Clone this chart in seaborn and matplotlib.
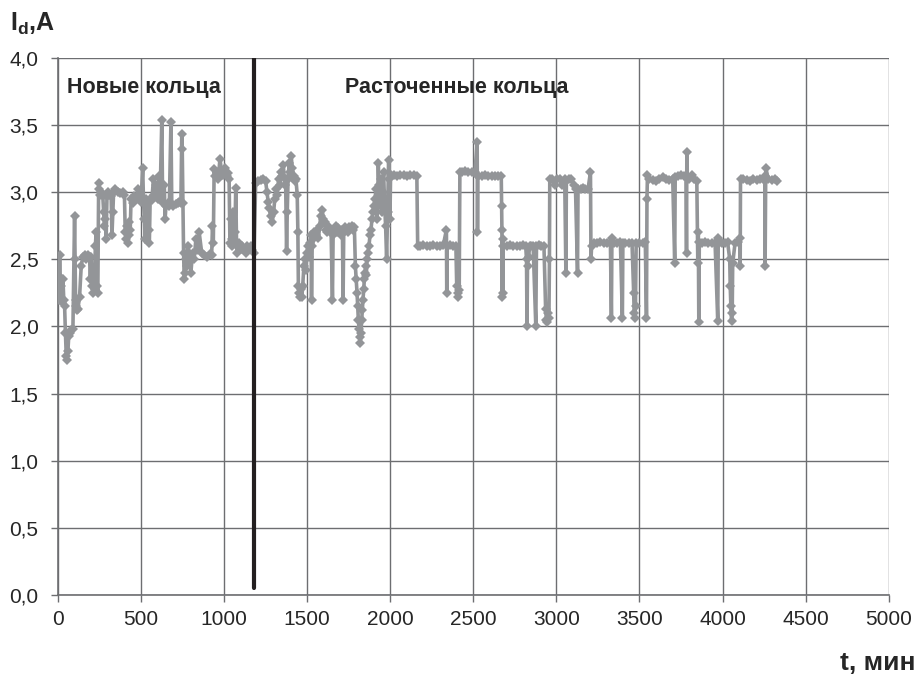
import matplotlib
matplotlib.use("Agg")
import matplotlib.pyplot as plt
import seaborn as sns
import pandas as pd
from matplotlib.ticker import MultipleLocator, FuncFormatter

# --- data: (time, min ; current Id, A) ---
new_rings = [
    (0, 2.38), (5, 2.2), (10, 2.53), (15, 2.25), (20, 2.3), (25, 2.18), (30, 2.35),
    (35, 2.2), (40, 2.15), (45, 1.95), (50, 1.78), (55, 1.75), (60, 1.82), (65, 1.93),
    (70, 1.95), (80, 1.97), (90, 1.98), (100, 2.82), (103, 2.5), (106, 2.2), (110, 2.15),
    (115, 2.12), (120, 2.13), (130, 2.22), (140, 2.45), (150, 2.52), (160, 2.53),
    (170, 2.5), (180, 2.53), (190, 2.52), (195, 2.35), (200, 2.52), (205, 2.3),
    (210, 2.25), (215, 2.35), (220, 2.28), (225, 2.6), (230, 2.7), (235, 2.3),
    (240, 2.25), (245, 3.07), (250, 3.02), (255, 2.98), (260, 3.0), (270, 2.97),
    (275, 2.85), (280, 2.75), (285, 2.8), (290, 2.65), (295, 2.97), (300, 3.0),
    (310, 2.98), (320, 2.97), (325, 2.68), (330, 2.85), (335, 3.0), (345, 3.02),
    (360, 3.0), (375, 2.99), (390, 3.0), (400, 2.98), (405, 2.7), (410, 2.65),
    (415, 2.75), (420, 2.62), (425, 2.78), (430, 2.68), (435, 2.72), (440, 2.95),
    (450, 2.92), (460, 2.97), (470, 2.95), (480, 3.02), (490, 2.95), (500, 2.93),
    (510, 3.18), (515, 2.93), (520, 2.8), (525, 2.65), (530, 2.95), (540, 2.93),
    (545, 2.72), (550, 2.62), (555, 2.95), (565, 2.94), (575, 3.1), (580, 2.98),
    (590, 3.05), (600, 2.95), (610, 3.12), (615, 2.98), (625, 3.54), (630, 2.92),
    (640, 3.05), (645, 2.8), (650, 2.9), (660, 2.92), (670, 2.9), (680, 3.52),
    (685, 2.91), (695, 2.9), (710, 2.91), (720, 2.92), (730, 2.93), (740, 2.92),
    (745, 3.43), (748, 3.32), (752, 2.92), (756, 2.55), (760, 2.35), (765, 2.4),
    (770, 2.5), (775, 2.45), (780, 2.6), (790, 2.55), (800, 2.4), (810, 2.55),
    (820, 2.5), (830, 2.65), (840, 2.57), (850, 2.7), (865, 2.55), (880, 2.53),
    (900, 2.52), (915, 2.54), (925, 2.53), (930, 2.75), (935, 2.62), (940, 3.17),
    (945, 3.12), (955, 3.15), (965, 3.1), (975, 3.25), (985, 3.15), (995, 3.13),
    (1005, 3.18), (1015, 3.12), (1025, 3.14), (1030, 3.1), (1035, 2.62), (1040, 2.8),
    (1045, 2.65), (1050, 2.6), (1055, 2.85), (1060, 2.62), (1065, 2.7), (1070, 3.03),
    (1075, 2.6), (1080, 2.55), (1090, 2.62), (1100, 2.58), (1110, 2.6), (1120, 2.58),
    (1130, 2.55), (1140, 2.6), (1150, 2.58), (1160, 2.6), (1170, 2.57), (1180, 2.55),
]

bored_rings = [
    (1190, 3.07), (1205, 3.08), (1220, 3.09), (1235, 3.1), (1250, 3.08), (1258, 3.0),
    (1265, 2.93), (1272, 2.88), (1280, 2.82), (1290, 2.78), (1298, 2.85), (1305, 2.95),
    (1312, 3.02), (1320, 2.98), (1328, 3.1), (1335, 3.05), (1342, 3.15), (1350, 3.12),
    (1357, 3.2), (1364, 3.05), (1370, 3.1), (1376, 2.56), (1380, 2.85), (1385, 3.1),
    (1392, 3.22), (1398, 3.15), (1404, 3.27), (1410, 3.18), (1418, 3.12), (1425, 3.08),
    (1432, 3.1), (1440, 2.98), (1444, 2.7), (1447, 2.3), (1452, 2.25), (1458, 2.22),
    (1463, 2.28), (1468, 2.22), (1473, 2.3), (1480, 2.45), (1486, 2.5), (1492, 2.42),
    (1498, 2.55), (1505, 2.6), (1512, 2.52), (1518, 2.62), (1523, 2.68), (1526, 2.2),
    (1530, 2.6), (1537, 2.65), (1544, 2.7), (1552, 2.68), (1560, 2.72), (1568, 2.66),
    (1575, 2.75), (1582, 2.82), (1590, 2.87), (1598, 2.8), (1605, 2.78), (1612, 2.72),
    (1620, 2.7), (1628, 2.75), (1636, 2.72), (1644, 2.7), (1652, 2.2), (1656, 2.68),
    (1664, 2.72), (1672, 2.75), (1680, 2.7), (1688, 2.73), (1696, 2.7), (1704, 2.68),
    (1712, 2.72), (1716, 2.2), (1720, 2.7), (1728, 2.74), (1736, 2.72), (1744, 2.7),
    (1752, 2.74), (1760, 2.73), (1768, 2.75), (1776, 2.72), (1784, 2.74), (1790, 2.45),
    (1795, 2.35), (1800, 2.25), (1804, 2.15), (1808, 2.05), (1812, 1.98), (1816, 1.92),
    (1820, 1.88), (1824, 1.95), (1828, 2.05), (1832, 2.12), (1836, 2.2), (1840, 2.28),
    (1844, 2.35), (1848, 2.4), (1852, 2.45), (1856, 2.38), (1860, 2.5), (1866, 2.55),
    (1872, 2.6), (1878, 2.68), (1884, 2.72), (1890, 2.8), (1896, 2.85), (1902, 2.9),
    (1908, 2.95), (1914, 3.02), (1920, 2.8), (1924, 2.9), (1928, 3.22), (1932, 3.05),
    (1936, 2.95), (1942, 3.1), (1948, 2.85), (1954, 3.0), (1960, 3.15), (1966, 2.9),
    (1972, 2.75), (1978, 2.5), (1984, 2.85), (1990, 3.24), (1994, 3.1), (1998, 2.8),
    (2002, 3.13), (2020, 3.13), (2040, 3.12), (2060, 3.13), (2080, 3.13), (2100, 3.12),
    (2120, 3.13), (2140, 3.13), (2160, 3.12), (2165, 2.6), (2180, 2.6), (2200, 2.61),
    (2220, 2.6), (2240, 2.6), (2260, 2.61), (2280, 2.6), (2300, 2.6), (2320, 2.61),
    (2338, 2.72), (2340, 2.25), (2342, 2.6), (2360, 2.61), (2380, 2.6), (2395, 2.6),
    (2400, 2.3), (2405, 2.25), (2410, 2.22), (2415, 2.27), (2419, 3.15), (2430, 3.15),
    (2450, 3.16), (2470, 3.15), (2490, 3.15), (2510, 3.15), (2523, 3.37), (2525, 2.7),
    (2527, 3.12), (2530, 3.12), (2550, 3.12), (2570, 3.13), (2590, 3.12), (2610, 3.12),
    (2630, 3.12), (2650, 3.12), (2668, 3.12), (2670, 2.9), (2672, 2.72), (2674, 2.22),
    (2676, 2.65), (2678, 2.25), (2680, 2.6), (2700, 2.6), (2720, 2.61), (2740, 2.6),
    (2760, 2.6), (2780, 2.6), (2800, 2.61), (2815, 2.6), (2820, 2.5), (2823, 2.0),
    (2826, 2.45), (2832, 2.52), (2840, 2.6), (2850, 2.6), (2860, 2.6), (2876, 2.0),
    (2880, 2.6), (2895, 2.61), (2910, 2.6), (2925, 2.6), (2935, 2.13), (2940, 2.05),
    (2945, 2.03), (2950, 2.1), (2955, 2.06), (2958, 2.5), (2960, 3.1), (2975, 3.1),
    (2990, 3.05), (3005, 3.1), (3020, 3.1), (3035, 3.05), (3050, 3.1), (3057, 2.4),
    (3060, 3.08), (3075, 3.1), (3090, 3.1), (3105, 3.05), (3115, 3.02), (3127, 2.4),
    (3130, 3.02), (3145, 3.02), (3160, 3.03), (3175, 3.02), (3190, 3.02), (3205, 3.15),
    (3208, 2.5), (3212, 2.6), (3225, 2.62), (3245, 2.62), (3265, 2.63), (3285, 2.62),
    (3305, 2.62), (3325, 2.62), (3331, 2.06), (3334, 2.66), (3345, 2.62), (3365, 2.62),
    (3385, 2.63), (3397, 2.06), (3400, 2.62), (3415, 2.62), (3435, 2.62), (3455, 2.62),
    (3465, 2.25), (3468, 2.1), (3472, 2.06), (3476, 2.15), (3480, 2.62), (3500, 2.62),
    (3520, 2.62), (3535, 2.63), (3542, 2.06), (3545, 2.95), (3548, 3.13), (3560, 3.1),
    (3580, 3.09), (3600, 3.08), (3620, 3.1), (3640, 3.11), (3660, 3.1), (3680, 3.09),
    (3700, 3.1), (3712, 2.47), (3715, 3.11), (3730, 3.12), (3750, 3.13), (3770, 3.12),
    (3780, 3.11), (3783, 2.55), (3785, 3.3), (3788, 3.12), (3800, 3.1), (3815, 3.13),
    (3830, 3.1), (3845, 3.08), (3851, 2.47), (3854, 2.7), (3857, 2.03), (3860, 2.63),
    (3875, 2.62), (3895, 2.63), (3915, 2.62), (3935, 2.62), (3955, 2.62), (3971, 2.04),
    (3974, 2.66), (3978, 2.62), (3995, 2.62), (4015, 2.62), (4030, 2.63), (4043, 2.5),
    (4046, 2.3), (4050, 2.15), (4054, 2.04), (4058, 2.1), (4061, 2.47), (4075, 2.62),
    (4090, 2.63), (4104, 2.66), (4106, 2.45), (4108, 3.1), (4125, 3.1), (4145, 3.09),
    (4165, 3.08), (4185, 3.1), (4205, 3.09), (4225, 3.1), (4245, 3.1), (4254, 3.12),
    (4256, 2.45), (4260, 3.18), (4275, 3.1), (4295, 3.09), (4315, 3.1), (4330, 3.08),
]

t_split = 1180
labels = ["Новые кольца", "Расточенные кольца"]

df = pd.DataFrame(new_rings + bored_rings, columns=["t", "I"])

sns.set_style("white")
plt.rcParams["font.family"] = ["Liberation Sans", "DejaVu Sans"]
plt.rcParams["mathtext.fontset"] = "custom"
plt.rcParams["mathtext.rm"] = "Liberation Sans"
plt.rcParams["mathtext.bf"] = "Liberation Sans:bold"

fig = plt.figure(figsize=(9.2, 6.88), dpi=100)
ax = fig.add_axes([0.063, 0.135, 0.903, 0.781])

sns.lineplot(data=df, x="t", y="I", ax=ax, color="#939598", linewidth=2.6,
             marker="D", markersize=5.5, markeredgewidth=0, sort=False,
             estimator=None, zorder=3)

# boundary between new and bored rings
ax.plot([t_split, t_split], [0.05, 4.0], color="#231f20", linewidth=3, zorder=4)

ax.text(55, 3.78, labels[0], fontsize=15.5, fontweight="bold", va="center")
ax.text(1730, 3.78, labels[1], fontsize=15.5, fontweight="bold", va="center")

ax.set_xlim(0, 5000)
ax.set_ylim(0, 4.0)
ax.xaxis.set_major_locator(MultipleLocator(500))
ax.yaxis.set_major_locator(MultipleLocator(0.5))
ax.yaxis.set_major_formatter(FuncFormatter(lambda v, p: f"{v:.1f}".replace(".", ",")))
ax.grid(True, color="#6d6e71", linewidth=1)
ax.tick_params(axis="both", labelsize=15, length=5, width=1, color="#6d6e71",
               direction="out", bottom=True, left=True)
ax.tick_params(axis="y", pad=9)
ax.tick_params(axis="x", pad=6)
for s in ["top", "right"]:
    ax.spines[s].set_visible(False)
for s in ["left", "bottom"]:
    ax.spines[s].set_color("#6d6e71")
    ax.spines[s].set_linewidth(1.2)
ax.set_xlabel("")
ax.set_ylabel("")

fig.text(0.011, 0.965, r"$\mathbf{I_d}$,A", fontsize=18, fontweight="bold", va="center")
fig.text(0.995, 0.036, "t, мин", fontsize=19, fontweight="bold", ha="right", va="center")

fig.savefig("out.png", dpi=100)
